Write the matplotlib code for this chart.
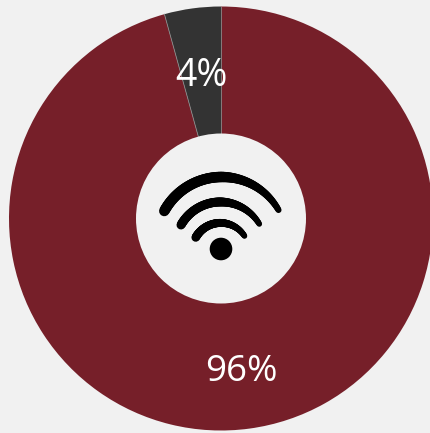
import numpy as np
import matplotlib
matplotlib.use("Agg")
import matplotlib.pyplot as plt
from matplotlib.patches import Circle

labels = ["Yes", "No"]
shares = [95.7, 4.3]
share_labels = ["96%", "4%"]
colors = ["#761F29", "#333333"]
BG = "#F1F1F1"

W, H = 431, 433
fig = plt.figure(figsize=(W / 100, H / 100), dpi=100, facecolor=BG)
ax = fig.add_axes([0, 0, 1, 1])

cx, cy, R, r = 221, 218.5, 212, 85
wedges, _ = ax.pie(shares, startangle=-90, counterclock=True, radius=R, center=(cx, cy),
                   colors=colors, frame=True, wedgeprops=dict(linewidth=0))
ax.set_xlim(0, W)
ax.set_ylim(H, 0)
ax.set_aspect("equal")
ax.axis("off")

# thin light seams between the two slices
for a in (wedges[1].theta1, wedges[1].theta2):
    ax.plot([cx, cx + R * np.cos(np.radians(a))], [cy, cy + R * np.sin(np.radians(a))],
            color="#8a8a8a", lw=0.6, zorder=2)

ax.add_patch(Circle((cx, cy), r, fc=BG, ec="none", zorder=3))

ax.text(241, 372, share_labels[0], color="white", fontsize=26.5, family="Open Sans",
        ha="center", va="center", zorder=4)
ax.text(201, 76.5, share_labels[1], color="white", fontsize=27, family="Open Sans",
        ha="center", va="center", zorder=4)


def arc(p0, p1, p2, w0, w1, w2):
    """Tapered circular stroke through three points, round caps."""
    (ax0, ay0), (bx, by), (cx0, cy0) = p0, p1, p2
    d = 2 * (ax0 * (by - cy0) + bx * (cy0 - ay0) + cx0 * (ay0 - by))
    ux = ((ax0**2 + ay0**2) * (by - cy0) + (bx**2 + by**2) * (cy0 - ay0) + (cx0**2 + cy0**2) * (ay0 - by)) / d
    uy = ((ax0**2 + ay0**2) * (cx0 - bx) + (bx**2 + by**2) * (ax0 - cx0) + (cx0**2 + cy0**2) * (bx - ax0)) / d
    rad = np.hypot(ax0 - ux, ay0 - uy)
    a0 = np.arctan2(ay0 - uy, ax0 - ux) % (2 * np.pi)
    a2 = np.arctan2(cy0 - uy, cx0 - ux) % (2 * np.pi)
    t = np.linspace(0, 1, 90)
    ang = a0 + (a2 - a0) * t
    xs, ys = ux + rad * np.cos(ang), uy + rad * np.sin(ang)
    ws = np.interp(t, [0, 0.5, 1], [w0, w1, w2])
    for i in range(len(t) - 1):
        ax.plot(xs[i:i + 2], ys[i:i + 2], color="black", lw=ws[i] * 0.72,
                solid_capstyle="round", zorder=5)


arc((164.3, 211), (220, 177), (278.5, 210), 10.5, 10.5, 6)
arc((181, 225), (218.5, 202), (259.3, 224), 9, 9, 5.5)
arc((195.7, 237.5), (218.5, 223), (244.5, 236), 8.5, 8, 5.5)
ax.add_patch(Circle((221, 249), 11.3, fc="black", ec="none", zorder=5))

fig.savefig("out.png", dpi=100, facecolor=BG)
